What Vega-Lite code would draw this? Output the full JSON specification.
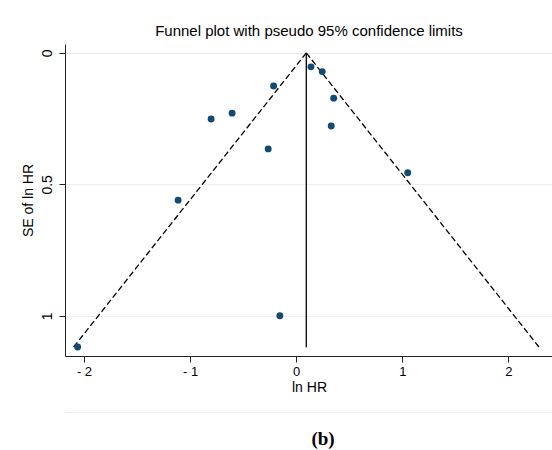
{
  "$schema": "https://vega.github.io/schema/vega-lite/v6.json",
  "background": "white",
  "padding": {"left": 21, "top": 24, "right": 0, "bottom": 0},
  "spacing": 18,
  "config": {
    "font": "Liberation Sans",
    "view": {"stroke": null},
    "axis": {
      "labelFont": "Liberation Sans",
      "titleFont": "Liberation Sans",
      "labelColor": "#000",
      "titleColor": "#000",
      "labelFontSize": 14,
      "titleFontSize": 14,
      "titleFontWeight": "normal",
      "domainColor": "#222",
      "tickColor": "#222"
    }
  },
  "datasets": {
    "studies": [
      {"lnhr": -2.06, "se": 1.119},
      {"lnhr": 0.139, "se": 0.053},
      {"lnhr": 0.245, "se": 0.071},
      {"lnhr": -0.213, "se": 0.126},
      {"lnhr": 0.353, "se": 0.172},
      {"lnhr": -0.604, "se": 0.229},
      {"lnhr": -0.802, "se": 0.251},
      {"lnhr": 0.33, "se": 0.278},
      {"lnhr": -0.264, "se": 0.365},
      {"lnhr": 1.051, "se": 0.456},
      {"lnhr": -1.113, "se": 0.56},
      {"lnhr": -0.154, "se": 1.0}
    ],
    "limits": [
      {"side": "lower", "lnhr": 0.095, "se": 0},
      {"side": "lower", "lnhr": -2.1, "se": 1.12},
      {"side": "upper", "lnhr": 0.095, "se": 0},
      {"side": "upper", "lnhr": 2.29, "se": 1.12}
    ],
    "pooled": [
      {"lnhr": 0.095, "se_top": 0, "se_bottom": 1.12}
    ]
  },
  "vconcat": [
    {
      "width": 488,
      "height": 312,
      "title": {
        "text": "Funnel plot with pseudo 95% confidence limits",
        "fontSize": 15,
        "fontWeight": "normal",
        "font": "Liberation Sans",
        "color": "#000",
        "anchor": "middle",
        "offset": 5
      },
      "layer": [
        {
          "data": {"name": "limits"},
          "mark": {"type": "line", "color": "#000", "strokeDash": [6, 3], "strokeWidth": 1.3},
          "encoding": {
            "x": {
              "field": "lnhr",
              "type": "quantitative",
              "scale": {"domain": [-2.179, 2.42], "nice": false, "zero": false},
              "axis": {
                "title": "ln HR",
                "values": [-2, -1, 0, 1, 2],
                "format": "~g",
                "labelExpr": "datum.value < 0 ? '- ' + abs(datum.value) : datum.label",
                "grid": false,
                "tickSize": 6,
                "labelFontSize": 13,
                "labelPadding": 3,
                "titlePadding": 2
              }
            },
            "y": {
              "field": "se",
              "type": "quantitative",
              "scale": {"domain": [-0.034, 1.153], "nice": false, "zero": false, "reverse": true},
              "axis": {
                "title": "SE of ln HR",
                "values": [0, 0.5, 1],
                "format": "~g",
                "labelAngle": -90,
                "grid": true,
                "gridColor": "#e6eff2",
                "tickSize": 6,
                "labelPadding": 5,
                "titlePadding": 5
              }
            },
            "detail": {"field": "side"},
            "order": {"field": "se"}
          }
        },
        {
          "data": {"name": "pooled"},
          "mark": {"type": "rule", "color": "#000", "strokeWidth": 1.3},
          "encoding": {
            "x": {"field": "lnhr", "type": "quantitative"},
            "y": {"field": "se_top", "type": "quantitative"},
            "y2": {"field": "se_bottom"}
          }
        },
        {
          "data": {"name": "studies"},
          "mark": {"type": "circle", "size": 48, "color": "#134a73", "opacity": 1},
          "encoding": {
            "x": {"field": "lnhr", "type": "quantitative"},
            "y": {"field": "se", "type": "quantitative"}
          }
        }
      ]
    },
    {
      "width": 488,
      "height": 38,
      "data": {"values": [{"caption": "(b)"}]},
      "mark": {"type": "text", "font": "Liberation Serif", "fontSize": 19, "fontWeight": "bold", "color": "#000", "dx": 14, "dy": 8},
      "encoding": {
        "x": {
          "field": "caption",
          "type": "nominal",
          "axis": {"orient": "top", "domainColor": "#e8eef1", "ticks": false, "labels": false, "title": null}
        },
        "text": {"field": "caption"}
      }
    }
  ]
}
